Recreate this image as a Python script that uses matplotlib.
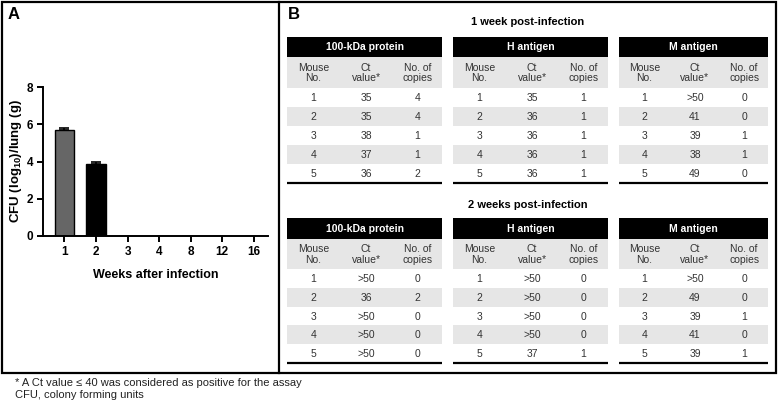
import matplotlib
matplotlib.use("Agg")
import matplotlib.pyplot as plt
from matplotlib.patches import Rectangle

plt.rcParams['font.family'] = ['Liberation Sans', 'DejaVu Sans']
plt.rcParams['mathtext.fontset'] = 'custom'
plt.rcParams['mathtext.bf'] = 'Liberation Sans:bold'
plt.rcParams['mathtext.rm'] = 'Liberation Sans:bold'

# Panel A data
weeks = ["1", "2", "3", "4", "8", "12", "16"]
cfu = [5.7, 3.85, 0, 0, 0, 0, 0]
cfu_err = [0.1, 0.15, 0, 0, 0, 0, 0]
bar_colors = ["#666666", "#000000", "#000000", "#000000", "#000000", "#000000", "#000000"]

# Panel B data
antigens = ["100-kDa protein", "H antigen", "M antigen"]
col_headers = ["Mouse\nNo.", "Ct\nvalue*", "No. of\ncopies"]
mouse_no = [1, 2, 3, 4, 5]
ct_week1 = [["35", "35", "38", "37", "36"],
            ["35", "36", "36", "36", "36"],
            [">50", "41", "39", "38", "49"]]
copies_week1 = [[4, 4, 1, 1, 2],
                [1, 1, 1, 1, 1],
                [0, 0, 1, 1, 0]]
ct_week2 = [[">50", "36", ">50", ">50", ">50"],
            [">50", ">50", ">50", ">50", "37"],
            [">50", "49", "39", "41", "39"]]
copies_week2 = [[0, 2, 0, 0, 0],
                [0, 0, 0, 0, 1],
                [0, 0, 1, 0, 1]]
footnotes = ["* A Ct value \u2264 40 was considered as positive for the assay",
             "CFU, colony forming units"]

W, H = 780, 407
fig = plt.figure(figsize=(W / 100, H / 100), dpi=100)

# overlay in pixel coordinates
ov = fig.add_axes([0, 0, 1, 1])
ov.set_xlim(0, W)
ov.set_ylim(H, 0)
ov.axis('off')

# frame
ov.add_patch(Rectangle((1.5, 1.5), 774, 371.5, fill=False, lw=1.6, ec='black'))
ov.plot([279, 279], [1.5, 373], color='black', lw=1.6)

# Panel A
ov.text(8, 22, "A", fontsize=12, fontweight='bold', va='bottom')
ax = fig.add_axes([43 / W, 1 - 236 / H, (268 - 43) / W, (236 - 87) / H])
x = range(len(weeks))
ax.bar(x, cfu, width=0.62, color=bar_colors, edgecolor='black', linewidth=1.0)
for i in range(2):
    ax.errorbar(i, cfu[i], yerr=[[0], [cfu_err[i]]], color='black', capsize=3.5,
                elinewidth=1.2, capthick=1.2)
ax.set_xlim(-0.68, 6.45)
ax.set_ylim(0, 8)
ax.set_yticks([0, 2, 4, 6, 8])
ax.set_xticks(list(x))
ax.set_xticklabels(weeks)
for s in ['top', 'right']:
    ax.spines[s].set_visible(False)
for s in ['left', 'bottom']:
    ax.spines[s].set_linewidth(1.4)
ax.tick_params(width=1.4, length=4, labelsize=8.5, pad=3)
for lab in ax.get_xticklabels() + ax.get_yticklabels():
    lab.set_fontweight('bold')
ax.set_xlabel("Weeks after infection", fontsize=9, fontweight='bold', labelpad=8)
ax.set_ylabel(r"CFU (log$_{\mathbf{10}}$)/lung (g)", fontsize=9.5, fontweight='bold', labelpad=2)

# Panel B
ov.text(288, 22, "B", fontsize=12, fontweight='bold', va='bottom')
table_x = [(287, 442), (453, 608), (619, 768)]
col_frac = [0.17, 0.51, 0.84]
blocks = [("1 week post-infection", 22, 37, 57, 88, 18.9, ct_week1, copies_week1),
          ("2 weeks post-infection", 205, 218, 239, 269, 18.8, ct_week2, copies_week2)]

for title, ty, htop, sub_top, row_top, rh, cts, cps in blocks:
    ov.text(528, ty, title, fontsize=8, fontweight='bold', ha='center', va='center')
    for t, (x0, x1) in enumerate(table_x):
        w = x1 - x0
        ov.add_patch(Rectangle((x0, htop), w, sub_top - htop, color='black', lw=0))
        ov.text(x0 + w / 2, (htop + sub_top) / 2, antigens[t], color='white',
                fontsize=7.5, fontweight='bold', ha='center', va='center')
        ov.add_patch(Rectangle((x0, sub_top), w, row_top - sub_top, color='#e6e6e6', lw=0))
        for c, lab in enumerate(col_headers):
            ov.text(x0 + col_frac[c] * w, (sub_top + row_top) / 2 + 0.5, lab, fontsize=7.5,
                    ha='center', va='center', color='#333333', linespacing=1.1)
        for r in range(len(mouse_no)):
            y0 = row_top + r * rh
            if r % 2 == 1:
                ov.add_patch(Rectangle((x0, y0), w, rh, color='#e6e6e6', lw=0))
            vals = [str(mouse_no[r]), cts[t][r], str(cps[t][r])]
            for c, v in enumerate(vals):
                ov.text(x0 + col_frac[c] * w, y0 + rh / 2 + 0.5, v, fontsize=7.5,
                        ha='center', va='center', color='#333333')
        yb = row_top + 5 * rh
        ov.plot([x0, x1], [yb, yb], color='black', lw=1.6, solid_capstyle='butt')

# footnotes
ov.text(15, 383, footnotes[0], fontsize=8, va='center', color='#222222')
ov.text(15, 395, footnotes[1], fontsize=8, va='center', color='#222222')

fig.savefig("out.png", dpi=100)
